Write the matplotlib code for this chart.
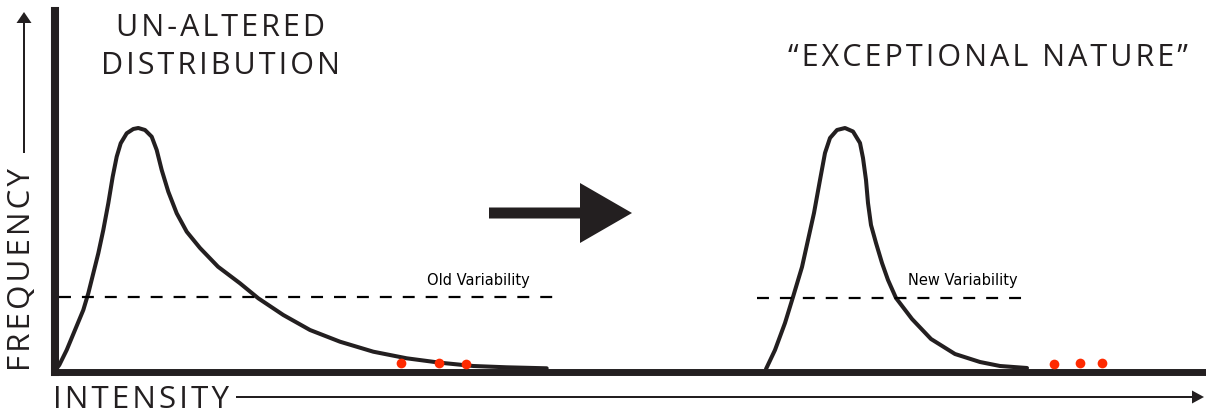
import numpy as np
import matplotlib
matplotlib.use("Agg")
import matplotlib.pyplot as plt
from matplotlib.patches import FancyArrow

# Schematic values (intensity / frequency, arbitrary units)
old_intensity = [2, 4.3, 11.7, 20, 28.3, 33.3, 38.3, 43.3, 48.3, 53.3, 57.7, 61.7,
                 65.7, 71.7, 78.3, 83.3, 90, 96.7, 101.7, 106.7, 113.3, 121.7,
                 131.7, 145, 163, 185, 203.3, 228.3, 255, 285, 318.3, 351.7, 385,
                 418.3, 451.7, 491.7]
old_frequency = [3.5, 6.5, 21.5, 41.5, 61.5, 78.2, 98.2, 118.2, 141.5, 168.2,
                 194.8, 214.8, 228.2, 238.2, 242.5, 243.5, 241.5, 234.8, 221.5,
                 201.5, 179.8, 158.2, 139.8, 123.5, 104.8, 88.2, 73.2, 56.5, 41.5,
                 29.8, 19.8, 13.2, 8.8, 5.5, 4.2, 3.2]

new_intensity = [711, 720, 730, 738, 747, 753, 759, 765, 770, 775, 782, 790, 798,
                 805, 808, 811, 813, 816, 821, 827, 833, 841, 857, 876, 900, 925,
                 945, 972]
new_frequency = [2.5, 21.5, 48.5, 74.5, 104.5, 131.5, 158.5, 191.5, 218.5, 233.5,
                 241.5, 243.5, 240, 228.5, 213.5, 191.5, 168.5, 146.5, 128.5,
                 108.5, 91.5, 73.5, 52.5, 32.5, 17.5, 9.5, 5.5, 3.5]

# Variability thresholds: (start, end, level)
old_variability = (4, 505, 74.5)
new_variability = (702, 970, 74.0)

# Extreme events (red dots)
old_extremes_x = [346, 384, 411]
old_extremes_y = [8.2, 8.2, 7.2]
new_extremes_x = [999, 1025, 1047]
new_extremes_y = [7.5, 8.5, 8.5]

ink = "#231f20"
red = "#ff2a00"


def track(s):
    # fake letter spacing with hair spaces
    return "\u200a".join(s)


plt.rcParams["lines.scale_dashes"] = False

W, H = 1206, 415
fig = plt.figure(figsize=(W / 100, H / 100), dpi=100)
# axes origin sits at the corner of the thick black axes
x0, y0, ytop = 55, 371.5, 11
ax = fig.add_axes([x0 / W, (H - y0) / H, (W - x0) / W, (y0 - ytop) / H])
ax.set_xlim(0, W - x0)
ax.set_ylim(0, y0 - ytop)
ax.set_xticks([])
ax.set_yticks([])
for s in ["top", "right"]:
    ax.spines[s].set_visible(False)
ax.spines["left"].set_linewidth(5.8)
ax.spines["bottom"].set_linewidth(5.0)
for s in ["left", "bottom"]:
    ax.spines[s].set_color(ink)
    ax.spines[s].set_capstyle("projecting")
    ax.spines[s].set_zorder(3)

# distributions
for xs, ys in [(old_intensity, old_frequency), (new_intensity, new_frequency)]:
    ax.plot(xs, ys, color=ink, lw=2.9, solid_joinstyle="round",
            solid_capstyle="round", zorder=2)

# variability lines
for (xa, xb, lev) in [old_variability, new_variability]:
    ax.plot([xa, xb], [lev, lev], color="black", lw=1.6, dashes=(8.6, 7.9), zorder=2)
ax.text(423, 90.5, "Old Variability", fontsize=10.5, ha="center", va="center",
        color="black")
ax.text(908, 90.5, "New Variability", fontsize=10.5, ha="center", va="center",
        color="black")

# extremes
ax.plot(old_extremes_x, old_extremes_y, "o", color=red, ms=7, mec="none",
        clip_on=False, zorder=4)
ax.plot(new_extremes_x, new_extremes_y, "o", color=red, ms=7, mec="none",
        clip_on=False, zorder=4)

# big arrow between the two panels
ax.add_patch(FancyArrow(434, 158.5, 143, 0, width=11, head_width=60,
                        head_length=52, length_includes_head=True,
                        color=ink, lw=0))

# axis arrows and labels
ax.add_patch(FancyArrow(-31, 218.5, 0, 141, width=2, head_width=15,
                        head_length=11, length_includes_head=True,
                        color=ink, lw=0, clip_on=False))
ax.add_patch(FancyArrow(181, -25.5, 968, 0, width=2, head_width=13,
                        head_length=12, length_includes_head=True,
                        color=ink, lw=0, clip_on=False))

big = dict(family=["Open Sans", "DejaVu Sans"], fontweight="normal", color=ink)
ax.text(-33, 101.5, track("FREQUENCY"), fontsize=22.5, rotation=90, ha="center",
        va="center", clip_on=False, **big)
ax.text(-2, -28, track("INTENSITY"), fontsize=22.5, ha="left", va="center",
        clip_on=False, **big)
ax.text(166, 324.5, track("UN-ALTERED") + "\n" + track("DISTRIBUTION"),
        fontsize=22, ha="center", va="center", linespacing=1.35,
        clip_on=False, **big)
ax.text(933, 313, track("\u201cEXCEPTIONAL NATURE\u201d"), fontsize=22,
        ha="center", va="center", clip_on=False, **big)

fig.savefig("out.png", dpi=100, facecolor="white")
